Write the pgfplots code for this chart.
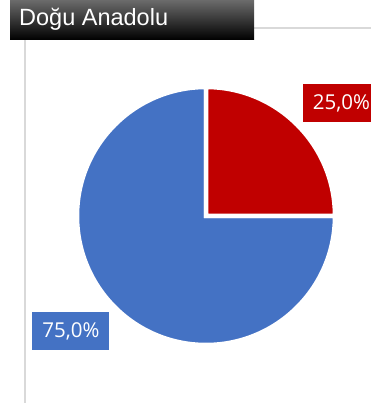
\documentclass[border=0pt]{standalone}
\usepackage{pgfplots}
\pgfplotsset{compat=1.18}
\usepackage{pgfplotstable}
\usepackage{fontspec}
\setmainfont{Liberation Sans}
\newfontfamily\labelfont{Open Sans}
\definecolor{pieblue}{HTML}{4472C4}
\definecolor{piered}{HTML}{C00000}
\definecolor{gridgray}{HTML}{D9D9D9}

% share of each slice
\pgfplotstableread{
name value
A 25
B 75
}\piedata

\begin{document}
\begin{tikzpicture}[x=1pt,y=1pt]
\useasboundingbox (0,0) rectangle (371,405);
\pgfplotstablegetelem{0}{value}\of\piedata \let\va\pgfplotsretval
\pgfplotstablegetelem{1}{value}\of\piedata \let\vb\pgfplotsretval
\pgfmathsetmacro\tot{\va+\vb}
\pgfmathsetmacro\angA{90-360*(\va/\tot)}
\pgfmathsetmacro\angB{\angA-360*(\vb/\tot)}

% frame lines
\draw[gridgray, line width=1.2pt] (25,365) -- (25,2);
\draw[gridgray, line width=1.2pt] (254,377) -- (371,377);

% title box
\shade[top color=black!58, middle color=black, bottom color=black] (10,405) rectangle (254,365);
\node[anchor=base west, inner sep=0pt, text=white, font=\fontsize{23.5}{28}\selectfont] at (19,379) {Doğu Anadolu};

\begin{axis}[at={(206pt,189pt)}, anchor=center, scale only axis,
  width=258pt, height=258pt, xmin=-1, xmax=1, ymin=-1, ymax=1,
  hide axis, clip=false]
  \filldraw[fill=pieblue, draw=white, line width=4.5pt, line join=miter]
    (axis cs:0,0) -- ++(\angA:129pt) arc[start angle=\angA, end angle=\angB, radius=129pt] -- cycle;
  \filldraw[fill=piered, draw=white, line width=4.5pt, line join=miter]
    (axis cs:0,0) -- ++(90:129pt) arc[start angle=90, end angle=\angA, radius=129pt] -- cycle;
  \node[fill=piered, text=white, font=\labelfont\fontsize{20.5}{24}\selectfont,
    minimum width=77pt, minimum height=38pt, inner sep=0pt] at (axis cs:1.050,0.876) {25,0\%};
  \node[fill=pieblue, text=white, font=\labelfont\fontsize{20.5}{24}\selectfont,
    minimum width=77pt, minimum height=38pt, inner sep=0pt] at (axis cs:-1.047,-0.891) {75,0\%};
\end{axis}
\end{tikzpicture}
\end{document}
